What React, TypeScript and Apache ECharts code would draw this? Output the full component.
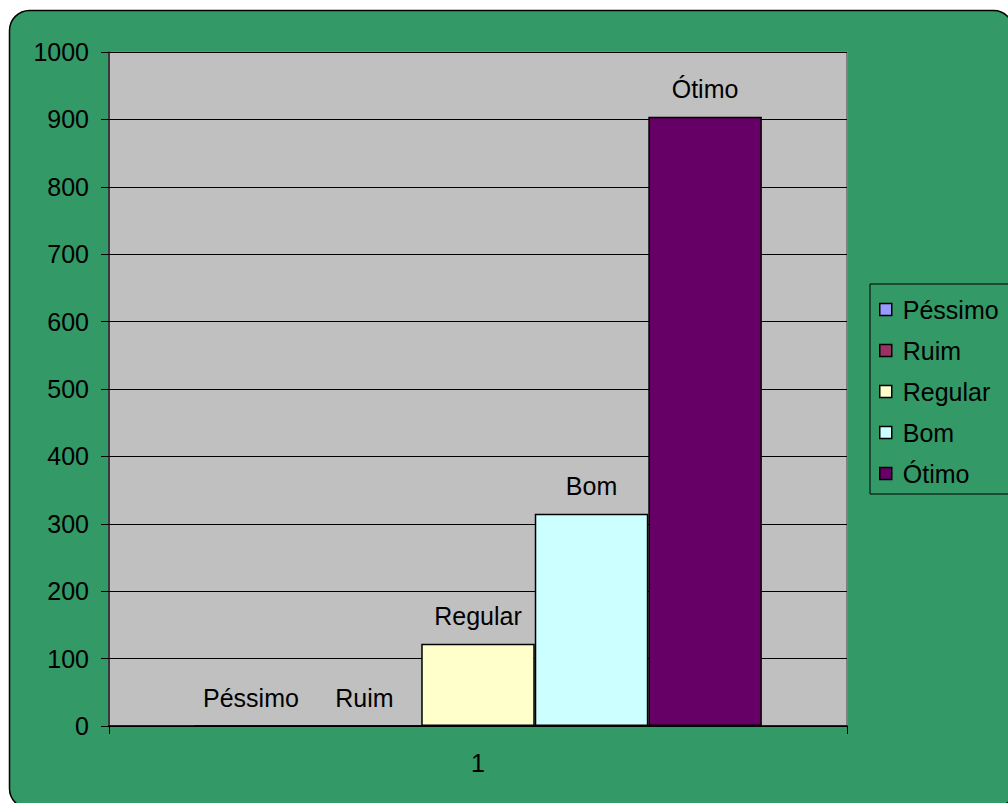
import React, { useEffect, useRef } from "react";
import * as echarts from "echarts";

const categories = ["1"];
const seriesNames = ["Péssimo", "Ruim", "Regular", "Bom", "Ótimo"];
const seriesValues = [0, 0, 122, 315, 904];
const seriesColors = ["#9999FF", "#993366", "#FFFFCC", "#CCFFFF", "#660066"];
const yTicks = { min: 0, max: 1000, interval: 100 };

const FONT = "'Liberation Sans', Arial, sans-serif";
const FS = 25;

export default function App() {
  const ref = useRef<HTMLDivElement>(null);
  useEffect(() => {
    if (!ref.current) return;
    const chart = echarts.init(ref.current, undefined, { renderer: "svg" });
    const option = {
      animation: false,
      textStyle: { fontFamily: FONT },
      graphic: [
        {
          type: "rect",
          z: -100,
          shape: { x: 9.5, y: 10.5, width: 1004, height: 798, r: 20 },
          style: { fill: "#339966", stroke: "#000", lineWidth: 1.5 },
        },
      ],
      grid: {
        left: 109,
        right: 161,
        top: 52,
        bottom: 77,
        show: true,
        backgroundColor: "#C0C0C0",
        borderColor: "#808080",
        borderWidth: 2,
        containLabel: false,
      },
      legend: {
        orient: "vertical",
        left: 870,
        top: 284,
        padding: [13, 12, 8, 9],
        itemWidth: 12,
        itemHeight: 12,
        itemGap: 16,
        icon: "rect",
        borderColor: "#000",
        borderWidth: 1,
        itemStyle: { borderColor: "#000", borderWidth: 1.5 },
        textStyle: {
          fontSize: FS,
          lineHeight: 25,
          color: "#000",
          fontFamily: FONT,
          padding: [0, 0, 0, 6],
        },
        data: seriesNames,
      },
      xAxis: {
        type: "category",
        data: categories,
        axisLine: { show: true, lineStyle: { color: "#000", width: 1.5 } },
        axisTick: { show: true, length: 8, lineStyle: { color: "#000" } },
        axisLabel: { fontSize: FS, color: "#000", margin: 24, fontFamily: FONT },
        splitLine: { show: false },
      },
      yAxis: {
        type: "value",
        min: yTicks.min,
        max: yTicks.max,
        interval: yTicks.interval,
        axisLine: { show: true, lineStyle: { color: "#222", width: 1.5 } },
        axisTick: { show: true, length: 8, lineStyle: { color: "#000" } },
        axisLabel: {
          fontSize: FS,
          color: "#000",
          margin: 20,
          fontFamily: FONT,
          formatter: (v: number) => String(v),
        },
        splitLine: { show: true, lineStyle: { color: "#000", width: 1 } },
      },
      series: seriesNames.map((name, i) => ({
        type: "bar",
        name,
        data: [seriesValues[i]],
        barGap: "0%",
        barCategoryGap: "23.08%",
        itemStyle: { color: seriesColors[i], borderColor: "#000", borderWidth: 1.5 },
        label: {
          show: true,
          position: "top",
          distance: 15,
          formatter: name,
          fontSize: FS,
          color: "#000",
          fontFamily: FONT,
        },
      })),
    };
    chart.setOption(option);
    return () => chart.dispose();
  }, []);
  return (
    <div
      ref={ref}
      style={{ position: "absolute", left: 0, top: 0, width: 1008, height: 803 }}
    />
  );
}
